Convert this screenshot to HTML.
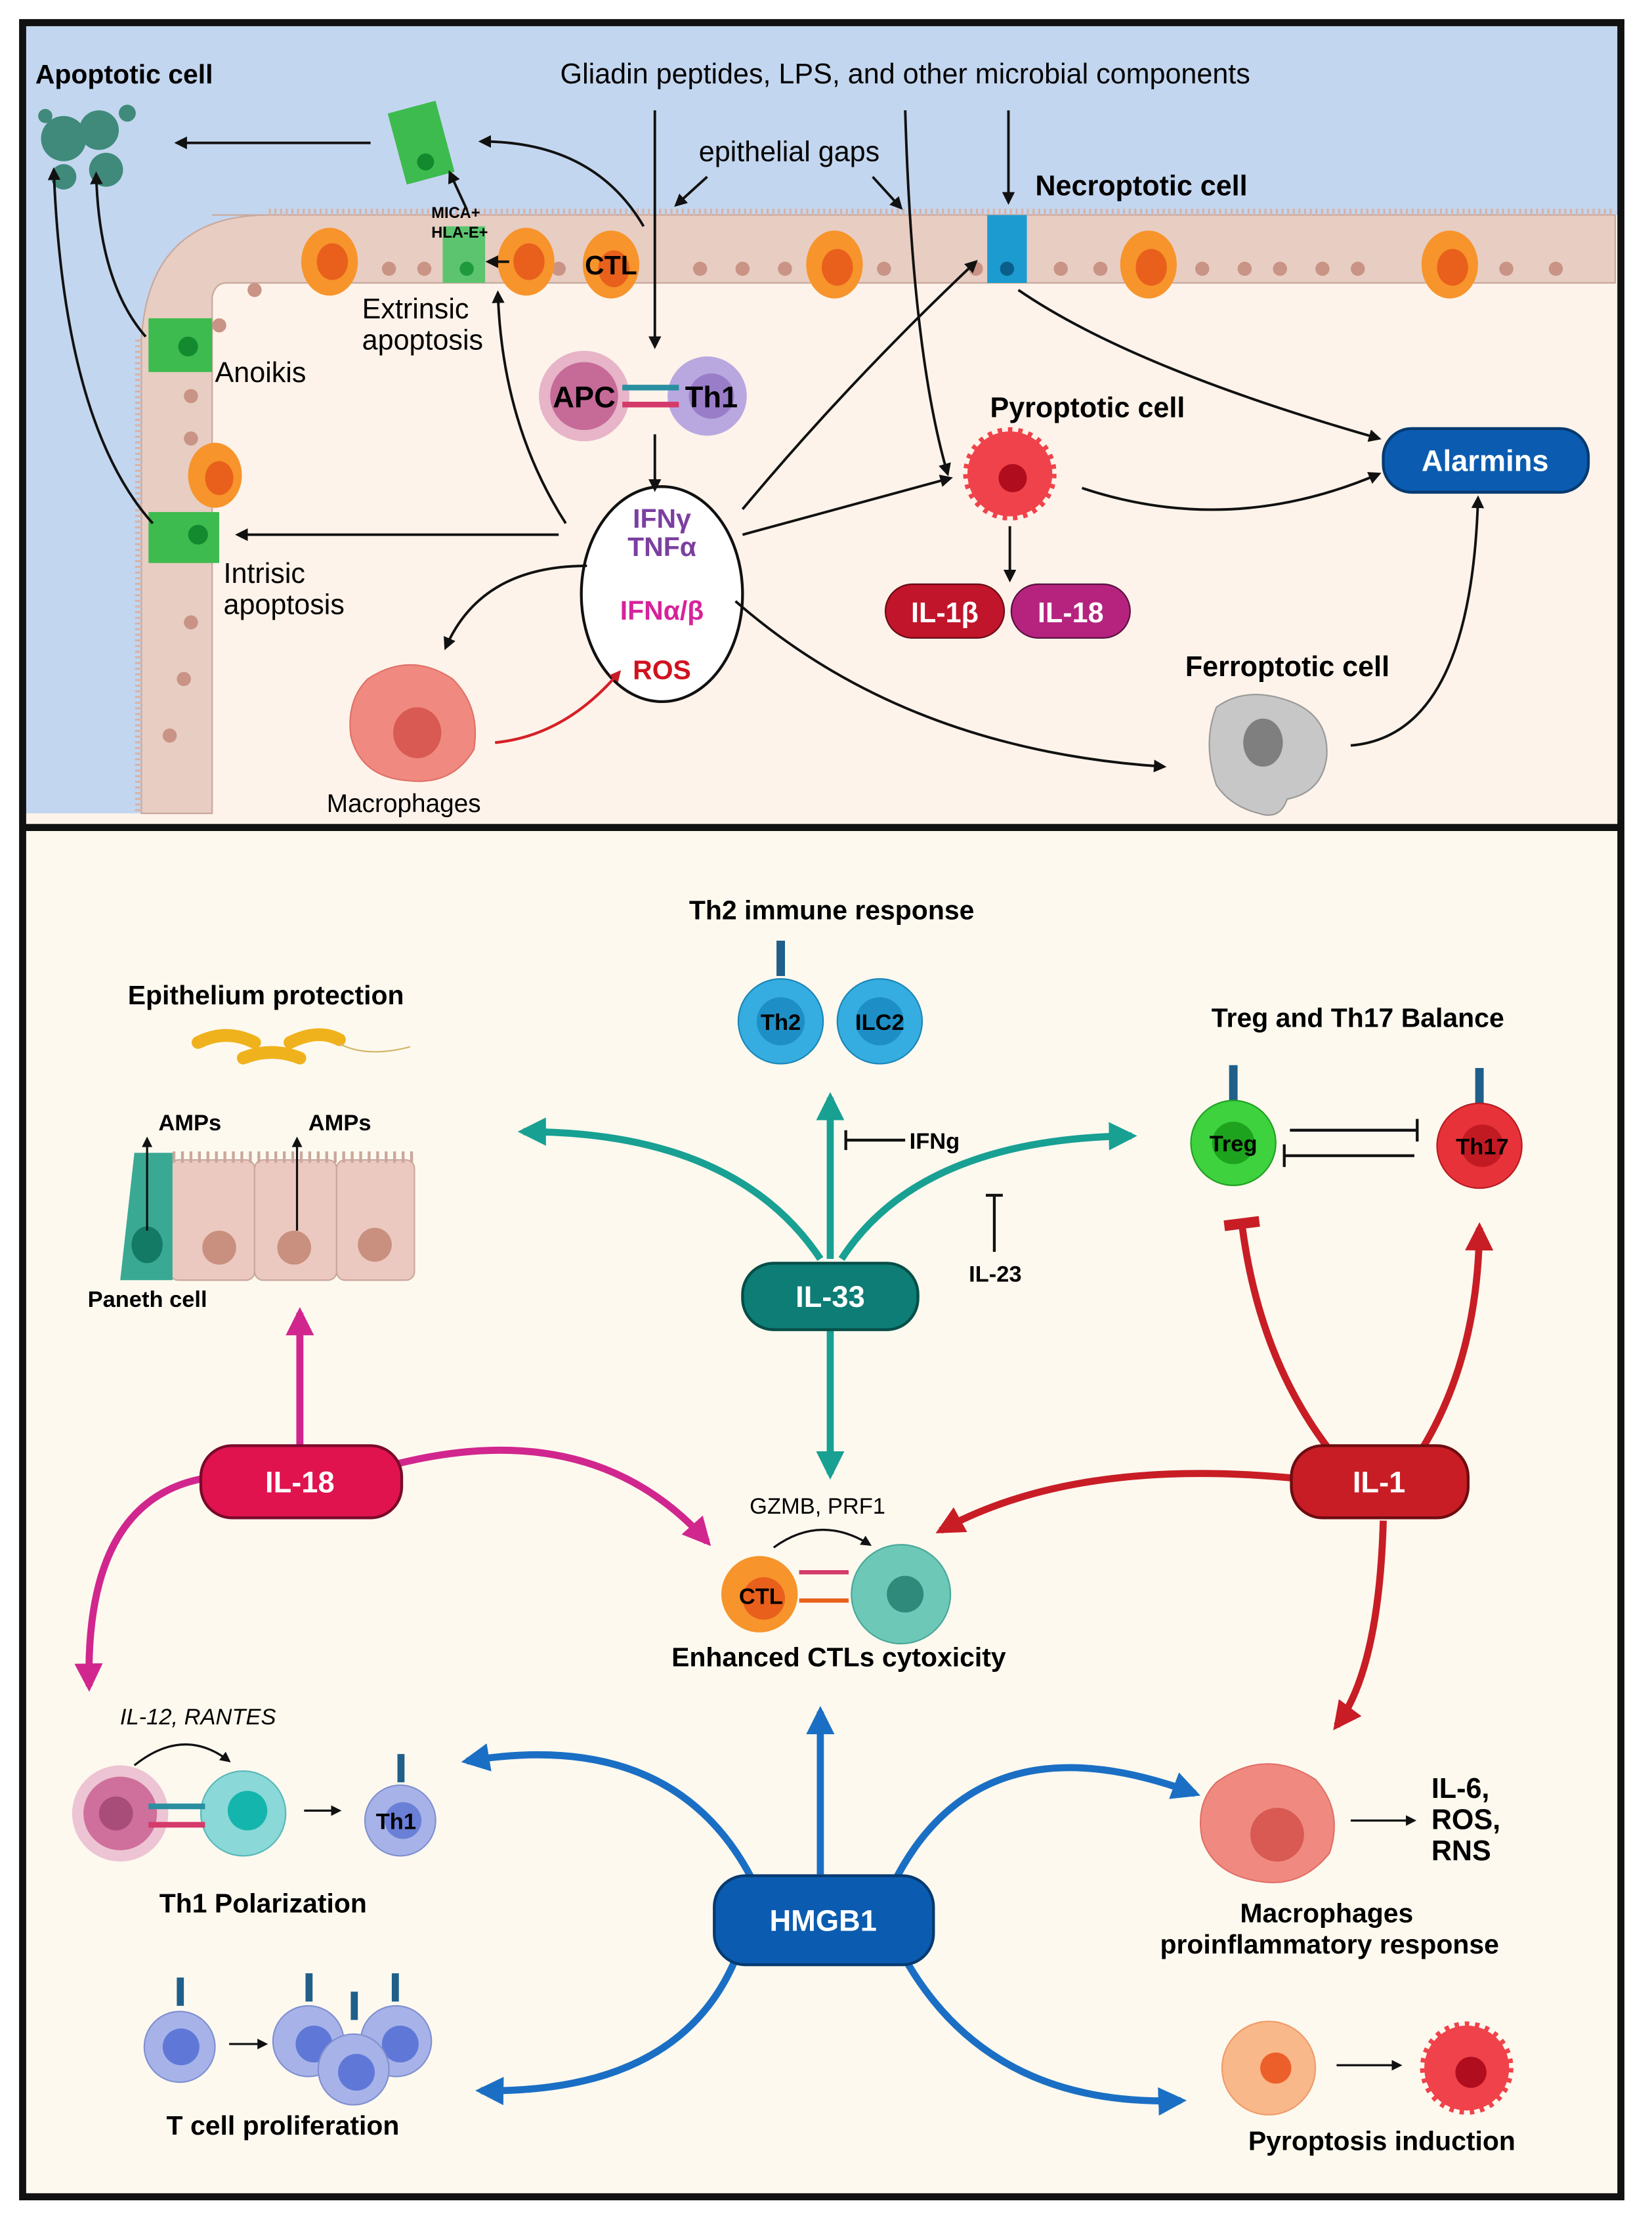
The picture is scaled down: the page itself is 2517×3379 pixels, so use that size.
<!DOCTYPE html>
<html><head><meta charset="utf-8"><style>
html,body{margin:0;padding:0;background:#fff}
svg{display:block}
text{font-family:"Liberation Sans",sans-serif}
.b{font-weight:bold}
</style></head><body>
<svg width="2517" height="3379" viewBox="0 0 1168 1568" preserveAspectRatio="none" xmlns="http://www.w3.org/2000/svg">
<defs>
<marker id="ak" viewBox="0 0 10 10" refX="8" refY="5" markerWidth="5" markerHeight="5" orient="auto"><path d="M0,0 L10,5 L0,10 z" fill="#111"/></marker>
<marker id="ar" viewBox="0 0 10 10" refX="8" refY="5" markerWidth="4" markerHeight="4" orient="auto"><path d="M0,0 L10,5 L0,10 z" fill="#c81d25"/></marker>
<marker id="am" viewBox="0 0 10 10" refX="8" refY="5" markerWidth="4" markerHeight="4" orient="auto"><path d="M0,0 L10,5 L0,10 z" fill="#d1268e"/></marker>
<marker id="at" viewBox="0 0 10 10" refX="8" refY="5" markerWidth="4" markerHeight="4" orient="auto"><path d="M0,0 L10,5 L0,10 z" fill="#18a093"/></marker>
<marker id="ab" viewBox="0 0 10 10" refX="8" refY="5" markerWidth="4" markerHeight="4" orient="auto"><path d="M0,0 L10,5 L0,10 z" fill="#1a6fc4"/></marker>
<marker id="tr" viewBox="0 0 10 10" refX="5" refY="5" markerWidth="5" markerHeight="5" orient="auto"><path d="M5,0 L5,10" stroke="#c81d25" stroke-width="3"/></marker>
</defs>
<rect width="1168" height="1568" fill="#fff"/>
<rect x="16" y="16" width="1130" height="568" fill="#fdf3ea"/>
<path d="M16,16 H1146 V152 H200 Q110,152 100,240 V575 H16 Z" fill="#c3d6ef"/>
<path d="M150,152 H1142 V200 H160 Q152,200 150,210 V575 H100 V240 Q105,152 190,152 Z" fill="#e8cdc3" stroke="#c9a89c" stroke-width="1"/>
<path d="M190,150 H1142" stroke="#d9b3a6" stroke-width="5" stroke-dasharray="1.5 2.5" fill="none"/>
<path d="M98,240 V575" stroke="#d9b3a6" stroke-width="5" stroke-dasharray="1.5 2.5" fill="none"/>
<g fill="#c99485">
<circle cx="275" cy="190" r="5"/><circle cx="300" cy="190" r="5"/><circle cx="395" cy="190" r="5"/><circle cx="495" cy="190" r="5"/><circle cx="525" cy="190" r="5"/><circle cx="555" cy="190" r="5"/><circle cx="625" cy="190" r="5"/><circle cx="690" cy="190" r="5"/><circle cx="750" cy="190" r="5"/><circle cx="778" cy="190" r="5"/><circle cx="850" cy="190" r="5"/><circle cx="880" cy="190" r="5"/><circle cx="905" cy="190" r="5"/><circle cx="935" cy="190" r="5"/><circle cx="960" cy="190" r="5"/><circle cx="1065" cy="190" r="5"/><circle cx="1100" cy="190" r="5"/>
<circle cx="135" cy="280" r="5"/><circle cx="135" cy="310" r="5"/><circle cx="135" cy="440" r="5"/><circle cx="130" cy="480" r="5"/><circle cx="120" cy="520" r="5"/><circle cx="180" cy="205" r="5"/><circle cx="155" cy="230" r="5"/>
</g>
<g><ellipse cx="233" cy="185" rx="20" ry="24" fill="#f7942b"/><ellipse cx="235" cy="185" rx="11" ry="13" fill="#e8601c"/>
<ellipse cx="372" cy="185" rx="20" ry="24" fill="#f7942b"/><ellipse cx="374" cy="185" rx="11" ry="13" fill="#e8601c"/>
<ellipse cx="432" cy="187" rx="20" ry="24" fill="#f7942b"/><ellipse cx="434" cy="190" rx="11" ry="13" fill="#e8601c"/>
<ellipse cx="590" cy="187" rx="20" ry="24" fill="#f7942b"/><ellipse cx="592" cy="189" rx="11" ry="13" fill="#e8601c"/>
<ellipse cx="812" cy="187" rx="20" ry="24" fill="#f7942b"/><ellipse cx="814" cy="189" rx="11" ry="13" fill="#e8601c"/>
<ellipse cx="1025" cy="187" rx="20" ry="24" fill="#f7942b"/><ellipse cx="1027" cy="189" rx="11" ry="13" fill="#e8601c"/>
<ellipse cx="152" cy="336" rx="19" ry="23" fill="#f7942b"/><ellipse cx="155" cy="338" rx="10" ry="12" fill="#e8601c"/></g>
<rect x="313" y="160" width="30" height="40" fill="#5cc46e"/><circle cx="330" cy="190" r="5" fill="#1e9a3d"/>
<rect x="105" y="225" width="45" height="38" fill="#3dbb4e"/><circle cx="133" cy="245" r="7" fill="#138a2e"/>
<rect x="105" y="362" width="50" height="36" fill="#3dbb4e"/><circle cx="140" cy="378" r="7" fill="#138a2e"/>
<g transform="rotate(-15 297 100)"><rect x="280" y="75" width="35" height="52" fill="#3dbb4e"/><circle cx="297" cy="115" r="6" fill="#138a2e"/></g>
<rect x="698" y="152" width="28" height="48" fill="#1b9bd0"/><circle cx="712" cy="190" r="5" fill="#0b5e8a"/>
<g fill="#3f8a7a"><circle cx="45" cy="98" r="16"/><circle cx="70" cy="92" r="14"/><circle cx="75" cy="120" r="12"/><circle cx="45" cy="125" r="9"/><circle cx="90" cy="80" r="6"/><circle cx="32" cy="82" r="5"/></g>
<circle cx="413" cy="280" r="32" fill="#d98bb0" opacity=".6"/><circle cx="413" cy="280" r="24" fill="#c66a98"/>
<circle cx="500" cy="280" r="28" fill="#b9a8e0"/><circle cx="503" cy="280" r="16" fill="#9a7dc8"/>
<rect x="440" y="272" width="40" height="4" fill="#2a8fa0"/><rect x="440" y="284" width="40" height="4" fill="#d43a6a"/>
<text x="413" y="288" font-size="21" class="b" text-anchor="middle">APC</text>
<text x="503" y="288" font-size="21" class="b" text-anchor="middle">Th1</text>
<ellipse cx="468" cy="420" rx="57" ry="76" fill="#fff" stroke="#111" stroke-width="2"/>
<text x="468" y="373" font-size="19" class="b" fill="#7b3fa0" text-anchor="middle">IFNγ</text>
<text x="468" y="393" font-size="19" class="b" fill="#7b3fa0" text-anchor="middle">TNFα</text>
<text x="468" y="438" font-size="19" class="b" fill="#d6239a" text-anchor="middle">IFNα/β</text>
<text x="468" y="480" font-size="19" class="b" fill="#d0121e" text-anchor="middle">ROS</text>
<circle cx="714" cy="335" r="30" fill="#f0424a" stroke="#f0424a" stroke-width="6" stroke-dasharray="3 4"/><circle cx="716" cy="338" r="10" fill="#b00d1e"/>
<rect x="626" y="413" width="84" height="38" rx="19" fill="#c0152b" stroke="#6a0a14"/>
<text x="668" y="440" font-size="20" class="b" fill="#fff" text-anchor="middle">IL-1β</text>
<rect x="715" y="413" width="84" height="38" rx="19" fill="#b5237f" stroke="#5a1040"/>
<text x="757" y="440" font-size="20" class="b" fill="#fff" text-anchor="middle">IL-18</text>
<rect x="978" y="303" width="145" height="45" rx="20" fill="#0b5cb0" stroke="#063a70" stroke-width="2"/>
<text x="1050" y="333" font-size="21" class="b" fill="#fff" text-anchor="middle">Alarmins</text>
<path d="M860,500 Q880,485 910,495 Q940,505 938,535 Q935,560 910,565 Q905,580 890,575 Q870,570 860,555 Q850,525 860,500Z" fill="#c7c7c7" stroke="#999"/><ellipse cx="893" cy="525" rx="14" ry="17" fill="#7f7f7f"/>
<path d="M260,480 Q290,460 320,480 Q340,500 335,530 Q320,555 290,552 Q255,550 248,520 Q245,495 260,480Z" fill="#f08a80" stroke="#e07068"/><ellipse cx="295" cy="518" rx="17" ry="18" fill="#d85a52"/>
<text x="25" y="59" font-size="19" class="b">Apoptotic cell</text>
<text x="640" y="59" font-size="20" text-anchor="middle">Gliadin peptides, LPS, and other microbial components</text>
<text x="558" y="114" font-size="20" text-anchor="middle">epithelial gaps</text>
<text x="732" y="138" font-size="20" class="b">Necroptotic cell</text>
<text x="305" y="154" font-size="11" class="b">MICA+</text><text x="305" y="168" font-size="11" class="b">HLA-E+</text>
<text x="432" y="194" font-size="19" class="b" text-anchor="middle">CTL</text>
<text x="256" y="225" font-size="20">Extrinsic</text><text x="256" y="247" font-size="20">apoptosis</text>
<text x="152" y="270" font-size="20">Anoikis</text>
<text x="158" y="412" font-size="20">Intrisic</text><text x="158" y="434" font-size="20">apoptosis</text>
<text x="700" y="295" font-size="20" class="b">Pyroptotic cell</text>
<text x="838" y="478" font-size="20" class="b">Ferroptotic cell</text>
<text x="231" y="574" font-size="18">Macrophages</text>
<g fill="none" stroke="#111" stroke-width="1.8" marker-end="url(#ak)">
<path d="M463,78 V245"/><path d="M713,78 V143"/>
<path d="M640,78 Q645,250 670,335"/>
<path d="M500,125 L478,145"/><path d="M617,125 L637,147"/>
<path d="M463,307 V346"/>
<path d="M262,101 H125"/>
<path d="M455,160 Q420,100 340,100"/>
<path d="M330,148 L318,122"/>
<path d="M360,185 H345"/>
<path d="M400,370 Q355,300 352,207"/>
<path d="M395,378 H168"/>
<path d="M415,400 Q340,400 315,458"/>
<path d="M103,238 Q70,200 68,123"/>
<path d="M108,370 Q45,300 38,120"/>
<path d="M525,360 Q600,270 690,185"/>
<path d="M525,378 L672,338"/>
<path d="M520,425 Q640,530 823,542"/>
<path d="M720,205 Q800,260 975,310"/>
<path d="M765,345 Q870,380 975,335"/>
<path d="M955,527 Q1040,520 1045,352"/>
<path d="M714,372 V410"/>
</g>
<path d="M350,525 Q400,520 438,475" fill="none" stroke="#d61f26" stroke-width="2" marker-end="url(#ar)"/>
<rect x="16" y="587" width="1130" height="966" fill="#fdf9ef"/>
<rect x="16" y="16" width="1130" height="1537" fill="none" stroke="#111" stroke-width="5"/>
<line x1="16" y1="585" x2="1146" y2="585" stroke="#111" stroke-width="5"/>

<text x="588" y="650" font-size="19" class="b" text-anchor="middle">Th2 immune response</text>
<rect x="549" y="665" width="6" height="25" fill="#1f5f8a"/>
<circle cx="552" cy="722" r="30" fill="#36ade0" stroke="#1a86b8"/><circle cx="552" cy="722" r="17" fill="#1d8fc6"/>
<circle cx="622" cy="722" r="30" fill="#36ade0" stroke="#1a86b8"/><circle cx="622" cy="722" r="17" fill="#1d8fc6"/>
<text x="552" y="728" font-size="16" class="b" text-anchor="middle">Th2</text>
<text x="622" y="728" font-size="16" class="b" text-anchor="middle">ILC2</text>
<text x="188" y="710" font-size="19" class="b" text-anchor="middle">Epithelium protection</text>
<g fill="none" stroke="#f0b21c" stroke-width="9" stroke-linecap="round"><path d="M140,737 Q160,727 180,737"/><path d="M172,748 Q192,740 212,748"/><path d="M205,737 Q225,727 240,735"/></g>
<path d="M240,738 Q260,748 290,740" stroke="#d2b66a" fill="none"/>
<g stroke="#caa79c" fill="#ecc9c0"><rect x="120" y="820" width="60" height="85" rx="6"/><rect x="180" y="820" width="58" height="85" rx="6"/><rect x="238" y="820" width="55" height="85" rx="6"/></g>
<path d="M122,818 H293" stroke="#caa79c" stroke-width="8" stroke-dasharray="2 4" fill="none"/>
<path d="M85,905 L95,815 H122 V905 Z" fill="#3aa994"/><ellipse cx="104" cy="880" rx="11" ry="13" fill="#137a65"/>
<circle cx="155" cy="882" r="12" fill="#c9907f"/><circle cx="208" cy="882" r="12" fill="#c9907f"/><circle cx="265" cy="880" r="12" fill="#c9907f"/>
<g stroke="#111" stroke-width="1.5" marker-end="url(#ak)"><line x1="104" y1="870" x2="104" y2="805"/><line x1="210" y1="870" x2="210" y2="805"/></g>
<text x="112" y="799" font-size="16" class="b">AMPs</text><text x="218" y="799" font-size="16" class="b">AMPs</text>
<text x="62" y="924" font-size="16" class="b">Paneth cell</text>
<text x="960" y="726" font-size="19" class="b" text-anchor="middle">Treg and Th17 Balance</text>
<rect x="869" y="753" width="6" height="25" fill="#1f5f8a"/><rect x="1043" y="755" width="6" height="25" fill="#1f5f8a"/>
<circle cx="872" cy="808" r="30" fill="#3ed23e" stroke="#22a022"/><circle cx="872" cy="808" r="15" fill="#1ea31e"/>
<circle cx="1046" cy="810" r="30" fill="#e8323a" stroke="#b81b22"/><circle cx="1048" cy="810" r="15" fill="#c11a22"/>
<text x="872" y="814" font-size="16" class="b" text-anchor="middle">Treg</text>
<text x="1048" y="816" font-size="16" class="b" text-anchor="middle">Th17</text>
<g stroke="#111" stroke-width="2"><line x1="912" y1="799" x2="1002" y2="799"/><line x1="1002" y1="791" x2="1002" y2="807"/><line x1="908" y1="817" x2="1000" y2="817"/><line x1="908" y1="809" x2="908" y2="825"/>
<line x1="598" y1="806" x2="640" y2="806"/><line x1="598" y1="799" x2="598" y2="813"/><line x1="703" y1="845" x2="703" y2="885"/><line x1="697" y1="845" x2="709" y2="845"/></g>
<text x="643" y="812" font-size="16" class="b">IFNg</text>
<text x="685" y="906" font-size="16" class="b">IL-23</text>
<g fill="none" stroke="#18a093" stroke-width="5" marker-end="url(#at)">
<path d="M587,890 V776"/><path d="M580,890 Q520,800 370,800"/><path d="M595,890 Q650,805 800,803"/><path d="M587,940 V1042"/></g>
<rect x="525" y="893" width="124" height="47" rx="22" fill="#0d7d75" stroke="#064e48" stroke-width="2"/>
<text x="587" y="924" font-size="21" class="b" fill="#fff" text-anchor="middle">IL-33</text>
<g fill="none" stroke="#d1268e" stroke-width="5" marker-end="url(#am)">
<path d="M212,1022 V928"/><path d="M280,1035 Q420,1000 500,1090"/><path d="M145,1045 Q60,1060 63,1192"/></g>
<rect x="142" y="1022" width="142" height="51" rx="22" fill="#e0134f" stroke="#7a0a2b" stroke-width="2"/>
<text x="212" y="1055" font-size="21" class="b" fill="#fff" text-anchor="middle">IL-18</text>
<g fill="none" stroke="#c81d25" stroke-width="5"><path d="M940,1025 Q890,960 878,865" marker-end="url(#tr)"/><path d="M1005,1025 Q1045,960 1046,868" marker-end="url(#ar)"/><path d="M915,1045 Q760,1030 665,1082" marker-end="url(#ar)"/><path d="M978,1075 Q975,1180 945,1220" marker-end="url(#ar)"/></g>
<rect x="913" y="1022" width="125" height="51" rx="22" fill="#c81d25" stroke="#6e0c10" stroke-width="2"/>
<text x="975" y="1055" font-size="21" class="b" fill="#fff" text-anchor="middle">IL-1</text>
<circle cx="637" cy="1127" r="35" fill="#6ec8b8" stroke="#48a898"/><circle cx="640" cy="1127" r="13" fill="#2f8a7c"/>
<circle cx="537" cy="1127" r="27" fill="#f7942b"/><circle cx="540" cy="1130" r="15" fill="#e8601c"/>
<rect x="565" y="1110" width="35" height="3" fill="#d43a6a"/><rect x="565" y="1130" width="35" height="3" fill="#e8601c"/>
<text x="538" y="1134" font-size="16" class="b" text-anchor="middle">CTL</text>
<path d="M547,1094 Q580,1070 615,1092" fill="none" stroke="#111" stroke-width="1.5" marker-end="url(#ak)"/>
<text x="578" y="1070" font-size="16" text-anchor="middle">GZMB, PRF1</text>
<text x="593" y="1178" font-size="19" class="b" text-anchor="middle">Enhanced CTLs cytoxicity</text>
<g fill="none" stroke="#1a6fc4" stroke-width="5" marker-end="url(#ab)">
<path d="M580,1325 V1210"/><path d="M535,1335 Q480,1220 330,1245"/><path d="M630,1335 Q690,1210 845,1268"/><path d="M520,1385 Q480,1480 340,1478"/><path d="M640,1385 Q700,1490 835,1485"/></g>
<rect x="505" y="1326" width="155" height="63" rx="22" fill="#0b5cb0" stroke="#063a70" stroke-width="2"/>
<text x="582" y="1365" font-size="21" class="b" fill="#fff" text-anchor="middle">HMGB1</text>
<circle cx="85" cy="1282" r="34" fill="#e3a0bf" opacity=".6"/><circle cx="85" cy="1282" r="26" fill="#cf6f9b"/><circle cx="82" cy="1282" r="12" fill="#a84c7a"/>
<circle cx="172" cy="1282" r="30" fill="#8ad8d8" stroke="#5ab8b8"/><circle cx="175" cy="1280" r="14" fill="#14b5ad"/>
<rect x="105" y="1275" width="40" height="4" fill="#2a8fa0"/><rect x="105" y="1288" width="40" height="4" fill="#d43a6a"/>
<path d="M95,1248 Q130,1220 162,1245" fill="none" stroke="#111" stroke-width="1.5" marker-end="url(#ak)"/>
<text x="140" y="1219" font-size="16" font-style="italic" text-anchor="middle">IL-12, RANTES</text>
<line x1="215" y1="1280" x2="240" y2="1280" stroke="#111" stroke-width="1.5" marker-end="url(#ak)"/>
<rect x="281" y="1240" width="5" height="20" fill="#1f5f8a"/>
<circle cx="283" cy="1287" r="25" fill="#a7b3e8" stroke="#8090d0"/><circle cx="285" cy="1287" r="13" fill="#6a7fd6"/>
<text x="280" y="1293" font-size="16" class="b" text-anchor="middle">Th1</text>
<text x="186" y="1352" font-size="19" class="b" text-anchor="middle">Th1 Polarization</text>
<g><rect x="125" y="1398" width="5" height="20" fill="#1f5f8a"/><circle cx="127" cy="1447" r="25" fill="#a7b3e8" stroke="#8090d0"/><circle cx="128" cy="1447" r="13" fill="#5f78d8"/>
<line x1="162" y1="1445" x2="188" y2="1445" stroke="#111" stroke-width="1.5" marker-end="url(#ak)"/>
<rect x="216" y="1395" width="5" height="20" fill="#1f5f8a"/><rect x="277" y="1395" width="5" height="20" fill="#1f5f8a"/><rect x="248" y="1408" width="5" height="20" fill="#1f5f8a"/>
<circle cx="218" cy="1443" r="25" fill="#a7b3e8" stroke="#8090d0"/><circle cx="222" cy="1445" r="13" fill="#5f78d8"/>
<circle cx="280" cy="1443" r="25" fill="#a7b3e8" stroke="#8090d0"/><circle cx="283" cy="1445" r="13" fill="#5f78d8"/>
<circle cx="250" cy="1463" r="25" fill="#a7b3e8" stroke="#8090d0"/><circle cx="252" cy="1465" r="13" fill="#5f78d8"/></g>
<text x="200" y="1509" font-size="19" class="b" text-anchor="middle">T cell proliferation</text>
<path d="M860,1260 Q895,1235 930,1258 Q950,1280 940,1310 Q920,1335 890,1330 Q858,1325 850,1300 Q845,1275 860,1260Z" fill="#f08a80" stroke="#e07068"/><ellipse cx="903" cy="1297" rx="19" ry="19" fill="#d85a52"/>
<line x1="955" y1="1287" x2="1000" y2="1287" stroke="#111" stroke-width="1.5" marker-end="url(#ak)"/>
<text x="1012" y="1271" font-size="20" class="b">IL-6,</text><text x="1012" y="1293" font-size="20" class="b">ROS,</text><text x="1012" y="1315" font-size="20" class="b">RNS</text>
<text x="938" y="1359" font-size="19" class="b" text-anchor="middle">Macrophages</text>
<text x="940" y="1381" font-size="19" class="b" text-anchor="middle">proinflammatory response</text>
<circle cx="897" cy="1462" r="33" fill="#f9b88a" stroke="#f09a6a"/><circle cx="902" cy="1462" r="11" fill="#ec5f2a"/>
<line x1="945" y1="1460" x2="990" y2="1460" stroke="#111" stroke-width="1.5" marker-end="url(#ak)"/>
<circle cx="1037" cy="1462" r="30" fill="#f0424a" stroke="#f0424a" stroke-width="6" stroke-dasharray="3 4"/><circle cx="1040" cy="1465" r="11" fill="#b00d1e"/>
<text x="977" y="1520" font-size="19" class="b" text-anchor="middle">Pyroptosis induction</text>
</svg>
</body></html>
